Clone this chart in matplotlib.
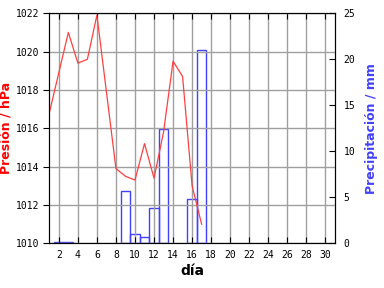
import matplotlib
matplotlib.use("Agg")
import matplotlib.pyplot as plt

# pressure (hPa) per day
dias_p = [1, 3, 4, 5, 6, 8, 9, 10, 11, 12, 13, 14, 15, 16, 17]
presion = [1016.8, 1021.0, 1019.4, 1019.6, 1021.9, 1013.9, 1013.5, 1013.3,
           1015.2, 1013.4, 1015.8, 1019.5, 1018.7, 1013.0, 1011.0]

# precipitation (mm) per day
dias_r = [2, 3, 9, 10, 11, 12, 13, 16, 17]
precip = [0.2, 0.2, 5.7, 1.0, 0.65, 3.8, 12.4, 4.8, 21.0]

RED = "#ff4040"
BLUE = "#4040ff"

plt.rcParams["font.family"] = "DejaVu Sans Mono"

fig = plt.figure(figsize=(3.84, 2.88), dpi=100)
ax = fig.add_axes([0.1284, 0.155, 0.745, 0.799])
ax2 = ax.twinx()

ax2.bar(dias_r, precip, width=1.0, facecolor="none", edgecolor=BLUE, linewidth=1.0)
ax2.set_ylim(0, 25)
ax2.set_yticks(range(0, 26, 5))
ax2.tick_params(axis="y", direction="in", length=4, labelsize=7, pad=6)
ax2.set_ylabel("Precipitación / mm", color=BLUE, fontsize=9, fontweight="bold",
               family="DejaVu Sans", labelpad=7)

ax.set_zorder(ax2.get_zorder() + 1)
ax.patch.set_visible(False)
ax.plot(dias_p, presion, color=RED, linewidth=0.9)
ax.set_ylim(1010, 1022)
ax.set_yticks(range(1010, 1023, 2))
ax.set_xlim(1, 31.05)
ax.set_xticks(range(2, 31, 2))
ax.grid(True, color="#a0a0a0", linewidth=1.0)
ax.set_axisbelow(True)
ax.tick_params(axis="y", direction="out", length=4, labelsize=7)
ax.tick_params(axis="x", direction="in", length=4, labelsize=7, top=True, pad=5)
ax.set_ylabel("Presión / hPa", color="red", fontsize=9, fontweight="bold",
              family="DejaVu Sans", labelpad=2)
ax.set_xlabel("día", fontsize=10, fontweight="bold", family="DejaVu Sans", labelpad=3)

fig.savefig("out.png", dpi=100)
